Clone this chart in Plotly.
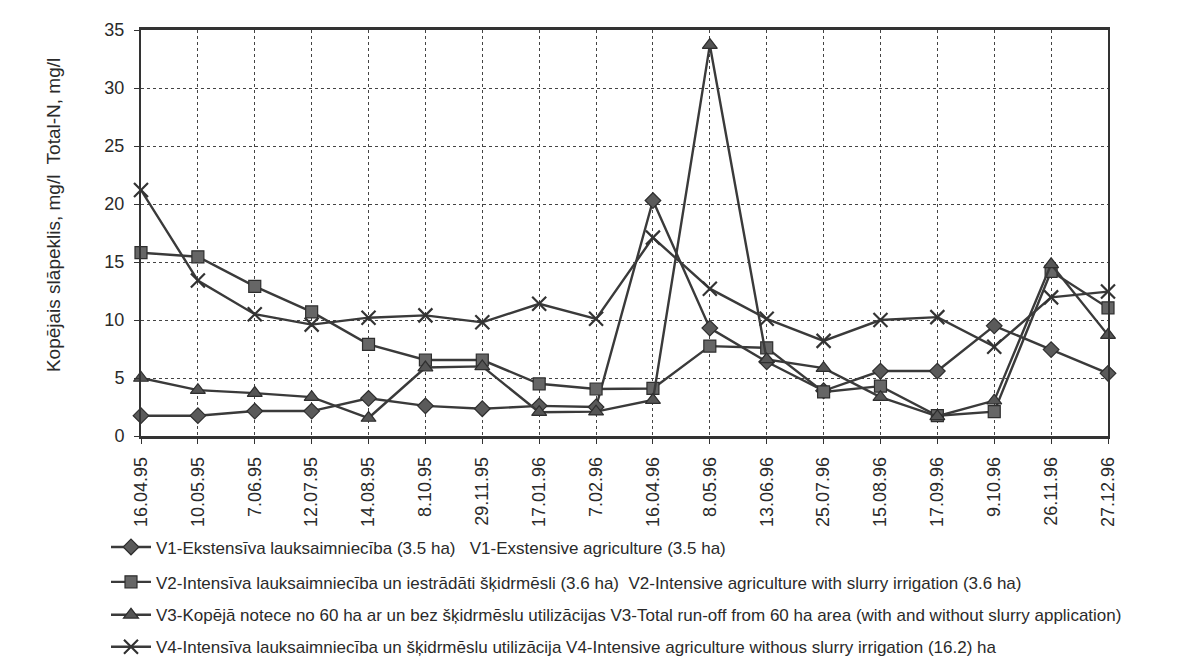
import plotly.graph_objects as go

dates = ["16.04.95", "10.05.95", "7.06.95", "12.07.95", "14.08.95", "8.10.95",
         "29.11.95", "17.01.96", "7.02.96", "16.04.96", "8.05.96", "13.06.96",
         "25.07.96", "15.08.96", "17.09.96", "9.10.96", "26.11.96", "27.12.96"]

v1 = [1.75, 1.75, 2.15, 2.15, 3.25, 2.6, 2.35, 2.6, 2.5, 20.3, 9.3, 6.4,
      3.9, 5.6, 5.6, 9.5, 7.45, 5.4]
v2 = [15.8, 15.45, 12.9, 10.7, 7.9, 6.55, 6.55, 4.5, 4.05, 4.1, 7.75, 7.6,
      3.8, 4.3, 1.75, 2.1, 14.2, 11.05]
v3 = [5.0, 3.95, 3.7, 3.35, 1.55, 5.9, 6.0, 2.05, 2.1, 3.1, 33.7, 6.6,
      5.85, 3.35, 1.7, 3.05, 14.8, 8.7]
v4 = [21.2, 13.4, 10.5, 9.6, 10.2, 10.4, 9.8, 11.4, 10.1, 17.1, 12.7, 10.1,
      8.2, 10.0, 10.25, 7.7, 11.95, 12.45]

names = [
    "V1-Ekstensīva lauksaimniecība (3.5 ha)   V1-Exstensive agriculture (3.5 ha)",
    "V2-Intensīva lauksaimniecība un iestrādāti šķidrmēsli (3.6 ha)  V2-Intensive agriculture with slurry irrigation (3.6 ha)",
    "V3-Kopējā notece no 60 ha ar un bez šķidrmēslu utilizācijas V3-Total run-off from 60 ha area (with and without slurry application)",
    "V4-Intensīva lauksaimniecība un šķidrmēslu utilizācija V4-Intensive agriculture withous slurry irrigation (16.2) ha",
]
series = [v1, v2, v3, v4]
symbols = ["diamond", "square", "triangle-up", "x-thin-open"]
sizes = [12, 12, 13, 14]
fills = ["#5a5a5a", "#666666", "#555555", "#333333"]

L, R, T, B = 133, 99, 22, 228
W, H = 1199, 669
ph = H - T - B
pw = W - L - R
legend_rows = [556, 592, 626, 659]

fig = go.Figure()
for i, (nm, ys) in enumerate(zip(names, series)):
    leg = "legend" if i == 0 else f"legend{i+1}"
    if symbols[i] == "x-thin-open":
        mk = dict(symbol=symbols[i], size=sizes[i], color="#333333",
                  line=dict(color="#333333", width=2.2))
    else:
        mk = dict(symbol=symbols[i], size=sizes[i], color=fills[i],
                  line=dict(color="#2e2e2e", width=1.2))
    fig.add_trace(go.Scatter(
        x=dates, y=ys, name=nm, mode="lines+markers",
        line=dict(color="#3a3a3a", width=2.4),
        marker=mk, cliponaxis=False, legend=leg,
    ))

layout_legends = {}
for i, py in enumerate(legend_rows):
    key = "legend" if i == 0 else f"legend{i+1}"
    layout_legends[key] = dict(
        x=(98 - L) / pw, y=(H - B - py) / ph, xanchor="left", yanchor="middle",
        bgcolor="rgba(0,0,0,0)", borderwidth=0,
        font=dict(family="Liberation Sans, Arial", size=17, color="#2a2a2a"),
        itemwidth=40,
    )

fig.update_layout(
    width=W, height=H,
    margin=dict(l=L, r=R, t=T, b=B),
    paper_bgcolor="white", plot_bgcolor="white",
    font=dict(family="Liberation Sans, Arial, sans-serif", color="#2a2a2a"),
    showlegend=True,
    **layout_legends,
)

fig.update_xaxes(
    type="category", range=[0, 17],
    tickangle=-90, tickfont=dict(size=18, color="#2a2a2a"),
    showgrid=True, gridcolor="#444444", griddash="dot", gridwidth=1,
    showline=True, linecolor="#333333", linewidth=2.5, mirror=True,
    ticks="outside", ticklen=5, tickcolor="#333333",
    ticklabelstandoff=6,
)
fig.update_yaxes(
    range=[0, 35], dtick=5,
    tickfont=dict(size=18, color="#2a2a2a"),
    showgrid=True, gridcolor="#444444", griddash="dot", gridwidth=1,
    showline=True, linecolor="#333333", linewidth=2, mirror=True,
    ticks="outside", ticklen=5, tickcolor="#333333",
    ticklabelstandoff=6,
    zeroline=False,
)

fig.add_annotation(
    text="Kopējais slāpeklis, mg/l  Total-N, mg/l",
    xref="paper", yref="paper",
    x=(45 - L) / pw, y=(H - B - 213) / ph,
    showarrow=False, textangle=-90,
    font=dict(size=19, color="#2a2a2a"),
    xanchor="center", yanchor="middle",
)

fig.write_html("out.html")
